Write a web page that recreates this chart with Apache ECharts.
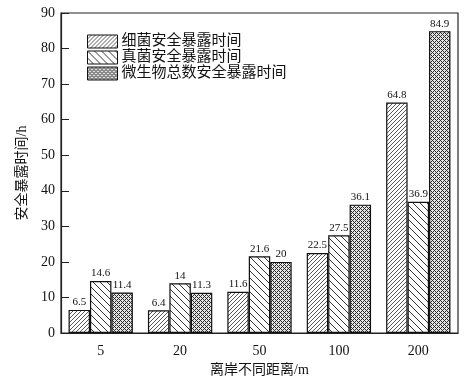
<!DOCTYPE html>
<html><head><meta charset="utf-8">
<script src="https://cdn.jsdelivr.net/npm/echarts@6/dist/echarts.min.js"></script>
<style>html,body{margin:0;padding:0;background:#fff}#c{width:473px;height:384px}</style>
</head><body><div id="c"></div>
<script>
const categories = ['5', '20', '50', '100', '200'];
const seriesNames = ['细菌安全暴露时间', '真菌安全暴露时间', '微生物总数安全暴露时间'];
const bacteria = [6.5, 6.4, 11.6, 22.5, 64.8];
const fungi = [14.6, 14, 21.6, 27.5, 36.9];
const total = [11.4, 11.3, 20, 36.1, 84.9];

function makePattern(type) {
  const c = document.createElement('canvas');
  const ctx = c.getContext('2d');
  if (type === 0) {
    const s = 4; c.width = s; c.height = s;
    ctx.fillStyle = '#fff'; ctx.fillRect(0, 0, s, s);
    ctx.strokeStyle = '#444'; ctx.lineWidth = 0.9;
    ctx.beginPath();
    ctx.moveTo(-1, s + 1); ctx.lineTo(s + 1, -1);
    ctx.moveTo(-1, 1); ctx.lineTo(1, -1);
    ctx.moveTo(s - 1, s + 1); ctx.lineTo(s + 1, s - 1);
    ctx.stroke();
  } else if (type === 1) {
    const s = 7; c.width = s; c.height = s;
    ctx.fillStyle = '#fff'; ctx.fillRect(0, 0, s, s);
    ctx.strokeStyle = '#333'; ctx.lineWidth = 1;
    ctx.beginPath();
    ctx.moveTo(-1, -1); ctx.lineTo(s + 1, s + 1);
    ctx.moveTo(s - 1, -1); ctx.lineTo(s + 1, 1);
    ctx.moveTo(-1, s - 1); ctx.lineTo(1, s + 1);
    ctx.stroke();
  } else {
    const s = 4; c.width = s; c.height = s;
    ctx.fillStyle = '#e6e6e6'; ctx.fillRect(0, 0, s, s);
    ctx.fillStyle = '#2a2a2a';
    for (let x = 0; x < s; x++) for (let y = 0; y < s; y++) {
      if ((x + y) % 4 === 0 || ((x - y) % 4 + 4) % 4 === 0) ctx.fillRect(x, y, 1, 1);
    }
  }
  return { image: c, repeat: 'repeat' };
}

const serif = "'Liberation Serif', 'Noto Sans CJK SC', serif";
const dataSets = [bacteria, fungi, total];
const chart = echarts.init(document.getElementById('c'), null, { renderer: 'canvas' });
chart.setOption({
  animation: false,
  backgroundColor: '#fff',
  textStyle: { fontFamily: serif },
  grid: { left: 61, right: 15, top: 13, bottom: 51, show: true, borderColor: '#222', borderWidth: 1.2 },
  legend: {
    left: 87, top: 34, orient: 'vertical', itemWidth: 30, itemHeight: 13, itemGap: 1, padding: 0,
    icon: 'rect',
    textStyle: { fontSize: 15, lineHeight: 15, color: '#111', fontFamily: serif, padding: [0, 0, 0, -1] },
    data: seriesNames.map((n, i) => ({ name: n, icon: 'rect', itemStyle: { color: makePattern(i), borderColor: '#111', borderWidth: 1 } }))
  },
  xAxis: {
    type: 'category', data: categories,
    name: '离岸不同距离/m', nameLocation: 'middle', nameGap: 30,
    nameTextStyle: { fontSize: 14, color: '#111', fontFamily: serif },
    axisLine: { lineStyle: { color: '#222', width: 1.2 } },
    axisTick: { show: false },
    axisLabel: { fontSize: 14, color: '#111', margin: 11, fontFamily: serif }
  },
  yAxis: {
    type: 'value', min: 0, max: 90, interval: 10,
    name: '安全暴露时间/h', nameLocation: 'middle', nameGap: 32, nameRotate: 90,
    nameTextStyle: { fontSize: 14, color: '#111', fontFamily: serif },
    axisLine: { show: true, lineStyle: { color: '#222', width: 1.2 } },
    axisTick: { show: true, inside: true, length: 8, lineStyle: { color: '#222' } },
    axisLabel: { fontSize: 14, color: '#111', margin: 6, fontFamily: serif },
    splitLine: { show: false }
  },
  series: dataSets.map((d, i) => ({
    name: seriesNames[i], type: 'bar', data: d,
    barGap: '0%', barCategoryGap: '19%',
    itemStyle: { color: makePattern(i), borderColor: '#111', borderWidth: 1.2 },
    label: { show: true, position: 'top', distance: 2, fontSize: 11, color: '#111', fontFamily: serif }
  }))
});
</script></body></html>
